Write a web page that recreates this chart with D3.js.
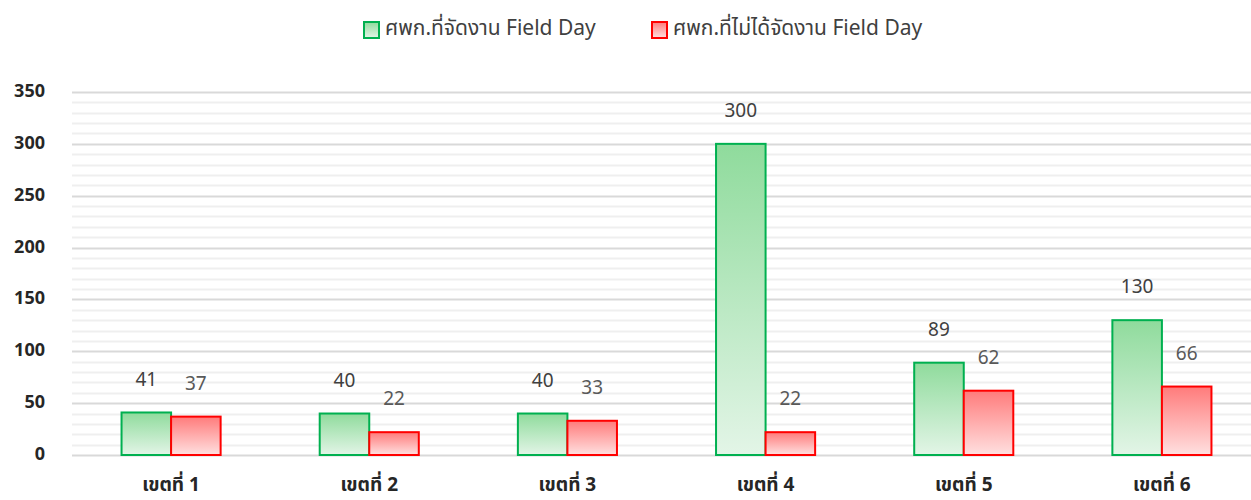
<!DOCTYPE html>
<html>
<head>
<meta charset="utf-8">
<script src="https://cdn.jsdelivr.net/npm/d3@7"></script>
<style>
  body { margin: 0; background: #fff; }
  svg { font-family: Tahoma, "Leelawadee UI", "Noto Sans Thai", "Noto Sans", sans-serif; }
</style>
</head>
<body>
<svg id="chart" width="1251" height="500"></svg>
<script>
const categories = ['เขตที่ 1', 'เขตที่ 2', 'เขตที่ 3', 'เขตที่ 4', 'เขตที่ 5', 'เขตที่ 6']
const heldValues = [41, 40, 40, 300, 89, 130]
const notHeldValues = [37, 22, 33, 22, 62, 66]
const seriesNames = ['ศพก.ที่จัดงาน Field Day', 'ศพก.ที่ไม่ได้จัดงาน Field Day']
const yTicks = [0, 50, 100, 150, 200, 250, 300, 350]

let svg = d3.select('#chart')
let margin = {left: 72, top: 92, bottom: 45}
let W = 1251, H = 500

// band range runs a little past the right edge, as in the original
let x = d3.scaleBand().domain(categories).range([margin.left, 1261])
let x1 = d3.scaleBand().domain([0, 1]).range([0, x.bandwidth()]).paddingOuter(1)
let y = d3.scaleLinear().domain([0, 350]).range([H - margin.bottom, margin.top])

let defs = svg.append('defs')
let grads = [
    {id: 'gGreen', top: '#8fdb9c', bottom: '#e3f5e7'},
    {id: 'gRed', top: '#ff7b7b', bottom: '#ffe0e0'}
]
grads.forEach(g => {
    let lg = defs.append('linearGradient').attr('id', g.id)
    .attr('x1', 0).attr('y1', 0).attr('x2', 0).attr('y2', 1)
    lg.append('stop').attr('offset', '0%').attr('stop-color', g.top)
    lg.append('stop').attr('offset', '100%').attr('stop-color', g.bottom)
})

// minor grid lines
svg.append('g').selectAll('line')
.data(d3.range(0, 351, 10).filter(v => v % 50 != 0))
.enter().append('line')
.attr('x1', margin.left).attr('x2', W)
.attr('y1', d => Math.round(y(d)) + 0.5).attr('y2', d => Math.round(y(d)) + 0.5)
.attr('stroke', '#efefef').attr('stroke-width', 2)

// major grid lines
svg.append('g').selectAll('line')
.data(yTicks)
.enter().append('line')
.attr('x1', margin.left).attr('x2', W)
.attr('y1', d => Math.round(y(d)) + 0.5).attr('y2', d => Math.round(y(d)) + 0.5)
.attr('stroke', '#d9d9d9').attr('stroke-width', 2)

svg.append('g').selectAll('text')
.data(yTicks)
.enter().append('text')
.attr('x', 45).attr('y', d => y(d))
.attr('text-anchor', 'end').attr('dominant-baseline', 'middle')
.attr('font-size', 18).attr('font-weight', 'bold').attr('fill', '#262626')
.text(d => d)

let colors = [
    {fill: 'url(#gGreen)', stroke: '#00b050', label: '#404040'},
    {fill: 'url(#gRed)', stroke: '#ff0000', label: '#595959'}
]
let series = [heldValues, notHeldValues]

series.forEach((vals, s) => {
    let g = svg.append('g')
    g.selectAll('rect')
    .data(vals)
    .enter().append('rect')
    .attr('x', (d, i) => x(categories[i]) + x1(s))
    .attr('y', d => y(d))
    .attr('width', x1.bandwidth())
    .attr('height', d => y(0) - y(d))
    .attr('fill', colors[s].fill)
    .attr('stroke', colors[s].stroke)
    .attr('stroke-width', 2)

    g.selectAll('text')
    .data(vals)
    .enter().append('text')
    .attr('x', (d, i) => x(categories[i]) + x1(s) + x1.bandwidth() / 2)
    .attr('y', d => y(d) - 32)
    .attr('text-anchor', 'middle').attr('dominant-baseline', 'middle')
    .attr('font-size', 19).attr('fill', colors[s].label)
    .text(d => d)
})

svg.append('g').selectAll('text')
.data(categories)
.enter().append('text')
.attr('x', d => x(d) + x.bandwidth() / 2)
.attr('y', 486)
.attr('text-anchor', 'middle').attr('dominant-baseline', 'middle')
.attr('font-size', 19).attr('font-weight', 'bold').attr('fill', '#262626')
.text(d => d)

// legend
let legend = svg.append('g')
let lx = [364, 652]
seriesNames.forEach((name, i) => {
    legend.append('rect')
    .attr('x', lx[i]).attr('y', 22).attr('width', 15).attr('height', 16)
    .attr('fill', colors[i].fill).attr('stroke', colors[i].stroke).attr('stroke-width', 2)
    legend.append('text')
    .attr('x', lx[i] + 21).attr('y', 29)
    .attr('dominant-baseline', 'middle')
    .attr('font-size', 21).attr('fill', '#404040')
    .text(name)
})
</script>
</body>
</html>
